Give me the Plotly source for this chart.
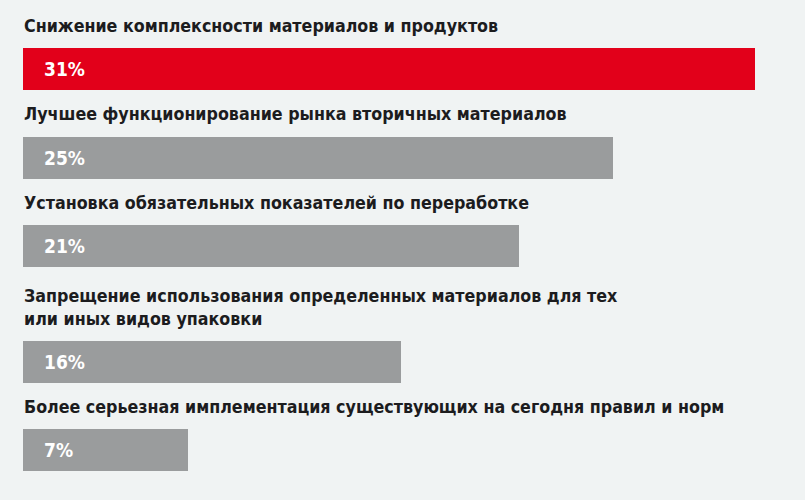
import plotly.graph_objects as go

categories = [
    "Снижение комплексности материалов и продуктов",
    "Лучшее функционирование рынка вторичных материалов",
    "Установка обязательных показателей по переработке",
    "Запрещение использования определенных материалов для тех<br>или иных видов упаковки",
    "Более серьезная имплементация существующих на сегодня правил и норм",
]
values = [31, 25, 21, 16, 7]
value_labels = ["31%", "25%", "21%", "16%", "7%"]
highlight = [True, False, False, False, False]

RED = "#e2001a"
GREY = "#9a9c9d"
BG = "#f0f3f3"
TXT = "#1c1c1e"
FONT = "DejaVu Sans Condensed, DejaVu Sans, sans-serif"

W, H = 805, 500
bar_h = 42
step = 88.5
line_h = 27

# vertical positions (pixel-like units) derived from the number of label lines
ypos = []
y = 69
for i, c in enumerate(categories):
    if i > 0:
        y += step + line_h * (c.count("<br>"))
    ypos.append(y)

colors = [RED if h else GREY for h in highlight]

fig = go.Figure(go.Bar(
    x=values, y=ypos, orientation="h", width=bar_h,
    marker=dict(color=colors, line=dict(width=0)),
    hoverinfo="skip",
))

ann = []
for c, yy, lab in zip(categories, ypos, value_labels):
    ann.append(dict(x=0, y=yy - bar_h / 2 - 10, xref="x", yref="y", text=c,
                    showarrow=False, xanchor="left", yanchor="bottom", align="left",
                    xshift=-1,
                    font=dict(family=FONT, size=17.7, color=TXT, weight="bold")))
    ann.append(dict(x=0, y=yy, xref="x", yref="y", text=lab, showarrow=False,
                    xanchor="left", yanchor="middle", xshift=19,
                    font=dict(family=FONT, size=19, color="white", weight="bold")))

fig.update_layout(
    width=W, height=H,
    margin=dict(l=23, r=3, t=0, b=0),
    paper_bgcolor=BG, plot_bgcolor=BG,
    showlegend=False,
    xaxis=dict(range=[0, 33], visible=False, fixedrange=True),
    yaxis=dict(range=[H, 0], visible=False, fixedrange=True),
    annotations=ann,
    bargap=0,
)

fig.write_html("out.html", config=dict(displayModeBar=False),
               post_script="document.body.style.margin='0';document.body.style.background='" + BG + "';")
